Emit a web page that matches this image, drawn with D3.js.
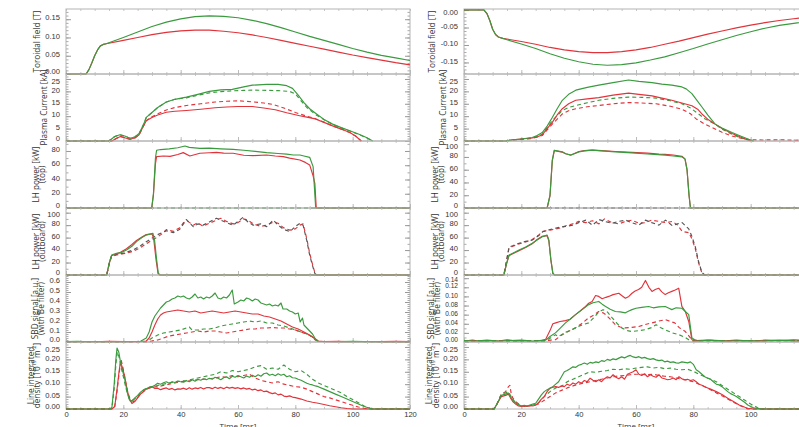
<!DOCTYPE html>
<html>
<head>
<meta charset="utf-8">
<script src="https://cdn.jsdelivr.net/npm/d3@7"></script>
<style>
  body { margin: 0; background: #fff; }
  svg { display: block; font-family: "Open Sans", sans-serif; }
</style>
</head>
<body>
<svg id="chart" width="799" height="427"></svg>
<script>
// ---- data: [time ms, value] ----
// toroidal field [T]
const torLG = [[0,0],[7,0],[8,0.012],[9,0.03],[10,0.05],[11,0.066],[12,0.077],[13,0.081],[14,0.083],[20,0.1],[25,0.115],[30,0.13],[35,0.142],[40,0.151],[45,0.157],[50,0.159],[55,0.158],[60,0.154],[65,0.147],[70,0.138],[75,0.127],[80,0.115],[85,0.103],[90,0.092],[95,0.081],[100,0.07],[105,0.06],[110,0.051],[115,0.044],[120,0.037]];
const torLR = [[0,0],[7,0],[8,0.012],[9,0.03],[10,0.05],[11,0.066],[12,0.077],[13,0.081],[14,0.083],[20,0.092],[25,0.1],[30,0.108],[35,0.114],[40,0.118],[45,0.12],[50,0.12],[55,0.117],[60,0.113],[65,0.107],[70,0.1],[75,0.092],[80,0.084],[85,0.076],[90,0.068],[95,0.06],[100,0.052],[105,0.045],[110,0.038],[115,0.031],[120,0.025]];
const torRG = [[0,0],[7,0],[8,-0.01],[9,-0.03],[10,-0.055],[11,-0.07],[12,-0.077],[13.5,-0.081],[15,-0.085],[20,-0.097],[25,-0.11],[30,-0.125],[35,-0.138],[40,-0.148],[45,-0.155],[50,-0.158],[55,-0.156],[60,-0.151],[65,-0.143],[70,-0.134],[75,-0.122],[80,-0.11],[85,-0.097],[90,-0.085],[95,-0.073],[100,-0.062],[105,-0.052],[110,-0.044],[115,-0.038],[120,-0.032]];
const torRR = [[0,0],[7,0],[8,-0.01],[9,-0.03],[10,-0.055],[11,-0.07],[12,-0.077],[13.5,-0.081],[15,-0.083],[20,-0.09],[25,-0.098],[30,-0.107],[35,-0.114],[40,-0.119],[45,-0.122],[50,-0.122],[55,-0.119],[60,-0.114],[65,-0.107],[70,-0.098],[75,-0.089],[80,-0.079],[85,-0.069],[90,-0.06],[95,-0.051],[100,-0.043],[105,-0.036],[110,-0.03],[115,-0.025],[120,-0.02]];

// plasma current [kA]
const ipLG = [[0,0],[15,0],[17,1.8],[18.8,2.5],[20.5,2],[22.3,1.1],[24,1.6],[25.5,3],[27,6.5],[28,9.5],[30,11.5],[32,13.5],[35,15.7],[38,16.8],[42,17.7],[46,18.8],[50,20],[54,20.6],[58,20.8],[62,21.8],[65,22.5],[70,22.8],[74,22.8],[77,22.3],[79,21.2],[81,18.5],[83,15.5],[85,13],[87.4,10.9],[90,8.7],[93,6.8],[96,5.4],[99,4.1],[102,2.8],[104.8,1.4],[107,0]];
const ipLGd = [[0,0],[15,0],[17,1.8],[18.8,2.5],[20.5,2],[22.3,1.1],[24,1.6],[25.5,3],[27,6.5],[28,9.5],[30,11.5],[32,13.5],[35,15.7],[38,16.8],[42,17.4],[45,18.2],[50,19.4],[54,19.9],[58,20.2],[62,20.4],[66,20.5],[70,20.4],[74,20.3],[78,20],[80,19],[82,16.2],[84,13.5],[87,10.7],[90,8.6],[93,6.7],[96,5.3],[99,4],[102,2.7],[105,1.2],[107,0]];
const ipLR = [[0,0],[16,0],[17.5,1],[19,1.8],[21,1.1],[22.3,0.7],[24,1.2],[25.5,2.5],[27,6],[28,8.2],[30,9.5],[32,10.5],[35,11.6],[38,12],[42,12.3],[47,12.8],[52,13.4],[56,13.7],[60,13.9],[65,13.9],[69,13.3],[73,12.6],[77,11.4],[81.5,10.2],[84,9.6],[87,8.9],[90,7.5],[93,6.1],[96,4.8],[99,3.4],[101,2],[103,0]];
const ipLRd = [[0,0],[16,0],[17.5,1],[19,1.8],[21,1.1],[22.3,0.7],[24,1.2],[25.5,2.5],[27,6],[28,8.2],[30,9.8],[32,11],[35,12.5],[38,13.5],[42,14.3],[47,15],[52,15.7],[56,16],[60,16.2],[65,15.8],[69,15.3],[72,14.8],[76,13.3],[80,11.5],[84,10],[87,9],[90,7.6],[93,6.1],[96,4.8],[99,3.4],[101,2],[103,0]];
const ipRG = [[0,0],[14.5,0],[17,0.5],[20,0.8],[23.8,1.4],[25.5,2.2],[27.3,3.4],[29,6],[30.8,9.5],[32.5,13],[34.3,16.4],[36.5,18.8],[39,20.5],[43,21.6],[47,22.5],[52,23.5],[57.4,24.6],[61,24],[65.6,23.5],[69,22.9],[72.5,22.5],[76,21.8],[77.5,21],[79.5,19.1],[81,16.8],[83,13.7],[85,10.5],[87.6,6.8],[90,5.2],[93.5,3.4],[96,2.2],[99.3,0.7],[101,0]];
const ipRR = [[0,0],[14.5,0],[17,0.5],[20,0.8],[23.8,1.2],[25.5,1.6],[27.3,2.5],[29,5],[30.8,7.5],[32.5,10.5],[34.3,13],[36.5,15],[39,16.4],[43,17],[47,17.5],[52,18.5],[57.4,19.3],[61,18.8],[65.6,18.2],[69,17.3],[72.5,16.4],[76,15.3],[79.5,14.2],[81.5,12.8],[83,10.9],[85,8.8],[87.6,6.8],[90,5],[93.5,3],[96,1.8],[99,0.4],[101,0]];
const ipRGd = [[0,0],[14.5,0],[17,0.4],[20,0.7],[23.8,1.2],[27.3,2.7],[30.8,8.2],[34.3,12.3],[36.5,13.5],[39,14.3],[43,15.4],[47,16.4],[52,17.2],[57.4,17.7],[62,17.6],[67,17.3],[72,16.2],[76,15],[79,13.3],[81,11.6],[84,9],[87.6,6.8],[90,4.8],[93.5,2.7],[96,1.5],[99,0.5],[100,0]];
const ipRRd = [[0,0],[14.5,0],[17,0.4],[20,0.7],[23.8,1],[27.3,2.2],[30.8,6.8],[34.3,10.9],[36.5,12.2],[39,13],[43,13.8],[47,14.3],[52,15],[57.4,15.5],[62,15.3],[67,15],[72,14],[76,12.8],[79,11],[81,8.9],[84,6.8],[87.6,4.8],[90,3.5],[93.5,2],[97,1],[100,0.5],[104,0.4],[110,0.5],[115,0.3],[120,0.5]];

// LH power, top [kW]
const lhTopLG = [[0,0],[29.9,0],[30.5,20],[31.2,70],[31.6,81],[33,82],[36,83],[39,84.5],[41.5,87],[43,85],[46.7,83.7],[50,84],[54,83],[58.3,82.3],[62,81],[66,79.5],[70,77.7],[74,76.5],[77,75.5],[79.3,74.4],[81.6,74.4],[83,73],[85,71.1],[86.2,58],[87.1,0],[120,0]];
const lhTopLR = [[0,0],[29.9,0],[30.5,18],[31.2,62],[31.6,72],[34,73],[36.3,72.5],[39,75],[40.9,77.7],[43.2,73],[46.7,76.8],[50,77.5],[52.5,78.1],[55,77],[58.3,76.8],[62,74],[65.3,73.4],[70,74.4],[73,73],[75.8,72],[78,70],[81.6,67.4],[83.5,64],[85,60.4],[86.2,45],[86.8,34.7],[87.3,0],[120,0]];
const lhTopOff = [[0,0],[120,0]];
const lhTopRG = [[0,0],[29,0],[30,20],[30.8,75],[31.5,90.6],[34.3,88],[35.5,85],[37.2,82.8],[38.5,85],[40.1,88],[42,89.5],[44.7,90.6],[48,89.5],[52.8,88],[58.6,86.5],[64,84.7],[70.2,82.8],[73,81.5],[76,80.2],[77.1,76.6],[77.8,60],[78.5,20],[79,0],[120,0]];
const lhTopRR = [[0,0],[29,0],[30,19],[30.8,74],[31.5,90],[34.3,87.5],[35.5,85],[37.2,83],[38.5,85.5],[40.1,88.5],[42,90],[44.7,90.6],[48,89.8],[52.8,88.5],[58.6,87.2],[64,86],[68,84.5],[70.2,84],[73,83],[76,81],[77.1,77],[77.8,60],[78.5,20],[79,0],[120,0]];

// LH power, outboard [kW]
const lhOutLG = [[0,0],[14.2,0],[15,18],[15.9,32],[17.6,34.8],[19,35.5],[21.1,40],[23,46],[24.6,53.5],[26.5,60],[28,64],[30.3,67],[30.9,56],[31.6,25],[32.2,2.7],[32.8,0],[120,0]];
const lhOutLR = [[0,0],[14.2,0],[15,17],[15.9,31],[17.6,34],[19,36.5],[21.1,42],[23,49],[24.6,55.5],[26.5,61],[28,65],[30,66],[30.6,58],[31.4,25],[32.1,2.7],[32.8,0],[120,0]];
const lhOutLGd = [[0,0],[14.2,0],[15,17],[15.9,31],[17.6,33],[20,35],[23.4,40],[26,47],[28,53.5],[30,59],[31.6,64],[33.5,68],[35.1,71],[37.5,68],[39.7,73.5],[42,89],[44.4,77.5],[46,82],[47.8,80],[50,85],[52.5,91],[54,88],[56,84],[58.3,80],[60,86],[61.8,92.6],[63.5,85],[65.3,80],[68,82],[70,77.5],[72.3,88],[74,80],[75.8,73.5],[78.1,69.5],[80,78],[81.6,83],[82.7,80],[84,55],[85,32],[86,15],[86.8,2.7],[87.5,0],[120,0]];
const lhOutLRd = [[0,0],[14.2,0],[15,16],[15.9,30],[17.6,32],[20,34],[23.4,38],[26,44],[28,50],[30,56],[31.6,60],[33.5,66],[35.1,73],[37.5,70],[39.7,76],[41,84],[42.5,86],[44.4,80],[46,84],[47.8,78],[50,83],[52.5,88],[54,91],[56,86],[58.3,82],[60,84],[61.8,90],[63.5,88],[65.3,82],[68,78],[70,80],[72.3,85],[74,83],[75.8,76],[78.1,72],[80,74],[81.6,80],[82.7,82],[84,58],[85,35],[86,17],[86.8,4],[87.5,0],[120,0]];
const lhOutRG = [[0,0],[13.9,0],[14.8,18],[15.7,32],[17,35],[19.2,40],[21.5,45],[23.8,51],[25.5,56],[27.3,61.5],[29,64],[29.6,56],[30.3,25],[31,2.7],[31.6,0],[120,0]];
const lhOutRR = [[0,0],[13.9,0],[14.8,17],[15.7,31],[17,34],[19.2,39],[21.5,44],[23.8,50],[25.5,57],[27.3,62],[29,63],[29.6,55],[30.3,24],[31,2.5],[31.6,0],[120,0]];
const lhOutRGd = [[0,0],[13.9,0],[14.8,22],[15.7,45],[17,47],[19.2,51],[21.5,54],[23.8,56],[26,63],[27.5,69.5],[30,73],[33.2,76.5],[35.5,78],[37.9,80],[40,84],[42.5,88],[44.8,80],[47.1,89],[49,86],[51.7,83],[54,86],[56.4,88],[58.5,84],[61,80],[63.3,88],[65.5,84],[68,80],[70.3,88],[72.7,79],[74.5,82],[76.1,84],[78.4,74],[79.5,62],[80.7,45],[81.8,22],[83,4],[84,0],[120,0]];
const lhOutRRd = [[0,0],[13.9,0],[14.8,21],[15.7,43],[17,46],[19.2,50],[21.5,53],[23.8,57],[26,64],[27.5,70],[30,72],[33.2,75],[35.5,79],[37.9,82],[40,86],[42.5,84],[44.8,87],[47.1,82],[49,90],[51.7,84],[54,82],[56.4,86],[58.5,88],[61,83],[63.3,84],[65.5,88],[68,86],[70.3,84],[72.7,86],[74.5,80],[76.1,70],[78.4,68],[79.5,58],[80.7,42],[81.8,20],[83,3],[84,0],[120,0]];

// SBD signal [a.u.]
const sbdLG = [[0,0.004],[4,0.006],[8,0.003],[12,0.005],[16,0.004],[20,0.003],[24,0.005],[26,0.008],[28,0.04],[29,0.1],[30,0.2],[31,0.26],[32,0.3],[33,0.34],[34,0.37],[35,0.4],[36,0.41],[37,0.43],[38,0.44],[39,0.46],[40,0.45],[41,0.46],[42,0.44],[43,0.43],[44,0.45],[45,0.48],[46,0.44],[47,0.45],[48,0.43],[49,0.45],[50,0.44],[51,0.46],[52,0.49],[53,0.44],[54,0.43],[55,0.45],[56,0.44],[57,0.47],[58,0.52],[58.7,0.38],[60,0.4],[61,0.42],[62,0.41],[63,0.44],[64,0.43],[65,0.41],[66,0.43],[67,0.42],[68,0.39],[69,0.38],[70,0.37],[71,0.38],[72,0.36],[73,0.37],[74,0.36],[75,0.39],[75.7,0.33],[77,0.33],[78,0.31],[79,0.3],[80,0.28],[81,0.29],[81.7,0.2],[82.5,0.24],[83,0.17],[84,0.14],[85,0.11],[86,0.08],[87,0.03],[88,0.008],[92,0.005],[96,0.004],[100,0.006],[104,0.004],[108,0.005],[112,0.003],[116,0.005],[120,0.004]];
const sbdLR = [[0,0.003],[5,0.005],[10,0.002],[15,0.006],[20,0.004],[25,0.003],[28,0.01],[29,0.04],[30,0.1],[31,0.17],[32,0.23],[33,0.27],[34,0.29],[35,0.3],[37,0.31],[39,0.32],[41,0.31],[43,0.3],[45,0.31],[47,0.29],[49,0.3],[51,0.31],[53,0.3],[55,0.29],[57,0.3],[59,0.31],[61,0.3],[63,0.29],[65,0.28],[67,0.28],[69,0.26],[71,0.25],[73,0.23],[75,0.21],[77,0.18],[79,0.15],[81,0.13],[83,0.1],[85,0.07],[86.5,0.04],[88,0.01],[90,0.004],[95,0.006],[100,0.003],[105,0.005],[110,0.004],[115,0.006],[120,0.004]];
const sbdLGd = [[0,0.004],[28,0.004],[29,0.02],[30,0.04],[32,0.07],[34,0.09],[36,0.1],[38,0.11],[40,0.12],[42,0.14],[43,0.15],[44,0.12],[46,0.12],[48,0.13],[50,0.13],[52,0.14],[54,0.16],[56,0.17],[58,0.18],[60,0.19],[62,0.2],[64,0.21],[66,0.2],[68,0.21],[70,0.19],[72,0.19],[74,0.17],[76,0.16],[78,0.14],[80,0.12],[82,0.1],[84,0.08],[86,0.05],[87,0.02],[88,0.005],[120,0.004]];
const sbdLRd = [[0,0.003],[29,0.004],[30,0.01],[32,0.02],[34,0.04],[36,0.06],[38,0.07],[40,0.08],[42,0.09],[44,0.1],[46,0.11],[48,0.1],[50,0.11],[52,0.11],[54,0.1],[56,0.09],[58,0.1],[60,0.11],[62,0.12],[64,0.13],[66,0.13],[68,0.14],[70,0.14],[72,0.145],[74,0.14],[76,0.14],[78,0.13],[80,0.12],[82,0.1],[84,0.08],[86,0.05],[87,0.02],[88,0.005],[120,0.004]];
const sbdRR = [[0,0.002],[3,0.004],[6,0.001],[9,0.003],[12,0.002],[15,0.005],[18,0.002],[21,0.003],[24,0.001],[27,0.003],[28.5,0.006],[30,0.025],[31,0.04],[32,0.042],[33.5,0.045],[35.4,0.047],[37,0.05],[38.9,0.06],[40.5,0.068],[42.4,0.078],[43.5,0.085],[44.7,0.089],[45.9,0.102],[47,0.1],[48.2,0.095],[49.5,0.098],[50.5,0.1],[52,0.104],[54,0.107],[55,0.102],[56.3,0.096],[57.5,0.1],[58.6,0.107],[59.7,0.112],[60.9,0.115],[62,0.12],[63.3,0.135],[64.5,0.12],[65.6,0.111],[66.7,0.115],[67.9,0.118],[69,0.11],[70.2,0.104],[71.3,0.108],[72.5,0.111],[73.7,0.114],[74.9,0.118],[76,0.078],[77.2,0.067],[78.4,0.045],[79.5,0.005],[81,0.003],[85,0.004],[90,0.002],[95,0.004],[100,0.002],[105,0.004],[110,0.003],[115,0.005],[120,0.003]];
const sbdRG = [[0,0.003],[4,0.002],[8,0.004],[12,0.002],[16,0.003],[20,0.004],[24,0.002],[28.5,0.004],[30,0.012],[31.9,0.02],[33.5,0.03],[35.4,0.042],[37,0.05],[38.9,0.06],[41,0.07],[43.5,0.082],[45,0.086],[47,0.089],[48.2,0.083],[49.4,0.078],[51,0.072],[52.8,0.067],[54.5,0.066],[56.3,0.064],[57.5,0.068],[58.6,0.071],[60,0.074],[62,0.076],[64.4,0.078],[66,0.075],[68,0.077],[70.2,0.078],[71.5,0.074],[72.5,0.071],[74,0.075],[76,0.074],[77.2,0.067],[78.4,0.06],[79.5,0.009],[81,0.002],[86,0.004],[92,0.002],[98,0.003],[104,0.002],[110,0.004],[116,0.002],[120,0.003]];
const sbdRRd = [[0,0.002],[28.5,0.002],[30,0.004],[31.9,0.005],[34,0.015],[36,0.022],[38.9,0.031],[41,0.04],[43.5,0.053],[45.5,0.06],[47,0.067],[48.5,0.064],[49.4,0.06],[51,0.05],[52.8,0.038],[54.5,0.033],[56.3,0.031],[58.6,0.032],[61,0.034],[63,0.038],[65.6,0.042],[68,0.046],[70.2,0.049],[72,0.045],[73.5,0.042],[75,0.032],[77.2,0.023],[79.5,0.005],[82,0.003],[120,0.003]];
const sbdRGd = [[0,0.003],[28.5,0.003],[30,0.008],[31.9,0.016],[33,0.012],[35,0.02],[38.9,0.031],[41,0.037],[43.5,0.042],[45.5,0.055],[47,0.066],[48.5,0.071],[50,0.066],[51.7,0.053],[53.5,0.04],[55,0.031],[57,0.025],[58.6,0.023],[61,0.025],[63.3,0.027],[65.6,0.032],[67,0.038],[68.5,0.032],[70,0.027],[72.7,0.02],[75,0.016],[77.2,0.01],[78.4,0.005],[80,0.002],[120,0.003]];

// line integrated density [1e19 m^-2]
const denLG = [[0,0],[15,0],[16,0.005],[16.8,0.1],[17.4,0.2],[17.8,0.246],[18.4,0.23],[19,0.19],[19.6,0.16],[20.5,0.12],[21.3,0.07],[22,0.04],[22.5,0.03],[23.2,0.035],[24,0.045],[25,0.055],[26,0.068],[27,0.077],[28,0.082],[29,0.088],[30,0.09],[31,0.096],[32,0.104],[33,0.1],[34,0.106],[35,0.11],[36,0.104],[37,0.11],[38,0.107],[39,0.113],[40,0.11],[41,0.108],[42,0.114],[43,0.11],[44,0.118],[45,0.112],[46,0.12],[47,0.116],[48,0.122],[49,0.118],[50,0.124],[51,0.12],[52,0.128],[53,0.124],[54,0.118],[55,0.126],[56,0.13],[57,0.122],[58,0.132],[59,0.128],[60,0.135],[61,0.13],[62,0.125],[63,0.133],[64,0.128],[65,0.136],[66,0.13],[67,0.138],[68,0.132],[69,0.142],[70,0.145],[71,0.136],[72,0.14],[73,0.134],[74,0.142],[75,0.136],[76,0.14],[77,0.13],[78,0.134],[79,0.126],[80,0.125],[81,0.12],[82,0.116],[83,0.11],[84,0.104],[85,0.1],[86,0.097],[87,0.093],[88,0.09],[90,0.08],[92,0.07],[94,0.06],[96,0.05],[98,0.04],[100,0.03],[102,0.02],[104,0.01],[106,0.003],[107,0],[120,0]];
const denLR = [[0,0],[16,0],[17,0.01],[17.8,0.08],[18.5,0.15],[19,0.19],[19.6,0.17],[20.5,0.13],[21.3,0.08],[22,0.045],[23,0.022],[24,0.03],[25,0.045],[26,0.06],[27,0.07],[28,0.08],[29,0.086],[30,0.09],[31,0.083],[32,0.084],[33,0.078],[34,0.082],[35,0.085],[36,0.079],[37,0.083],[38,0.077],[39,0.081],[40,0.08],[41,0.084],[42,0.079],[43,0.086],[44,0.08],[45,0.085],[46,0.082],[47,0.087],[48,0.081],[49,0.086],[50,0.086],[51,0.082],[52,0.088],[53,0.083],[54,0.087],[55,0.082],[56,0.088],[57,0.084],[58,0.087],[59,0.083],[60,0.086],[61,0.081],[62,0.085],[63,0.08],[64,0.083],[65,0.077],[66,0.08],[67,0.074],[68,0.077],[69,0.07],[70,0.072],[71,0.066],[72,0.062],[73,0.065],[74,0.057],[75,0.06],[76,0.052],[77,0.05],[78,0.053],[79,0.048],[80,0.046],[82,0.04],[84,0.032],[86,0.027],[88,0.023],[90,0.018],[92,0.013],[94,0.009],[96,0.005],[98,0.002],[100,0],[120,0]];
const denLGd = [[0,0],[15,0],[16,0.004],[16.8,0.08],[17.4,0.18],[17.9,0.23],[18.5,0.21],[19.2,0.17],[20,0.13],[21,0.08],[22,0.045],[23,0.035],[24,0.04],[25,0.05],[26,0.065],[27,0.075],[28,0.083],[30,0.088],[32,0.095],[34,0.1],[36,0.105],[38,0.11],[40,0.112],[42,0.115],[44,0.12],[46,0.125],[48,0.13],[50,0.135],[52,0.14],[54,0.15],[56,0.145],[58,0.155],[60,0.15],[62,0.155],[64,0.16],[66,0.17],[68,0.175],[70,0.16],[72,0.165],[74,0.16],[76,0.177],[78,0.16],[80,0.15],[82,0.155],[84,0.14],[86,0.12],[88,0.105],[90,0.095],[92,0.085],[94,0.075],[96,0.065],[98,0.05],[100,0.038],[102,0.025],[104,0.012],[106,0.004],[108,0],[120,0]];
const denLRd = [[0,0],[16,0],[17,0.01],[17.8,0.07],[18.5,0.14],[19.2,0.2],[19.8,0.17],[20.6,0.12],[21.5,0.07],[22.5,0.035],[23.5,0.03],[24.5,0.04],[26,0.06],[28,0.08],[30,0.088],[32,0.09],[34,0.095],[36,0.1],[38,0.105],[40,0.11],[42,0.112],[44,0.115],[46,0.118],[48,0.12],[50,0.122],[52,0.125],[54,0.13],[56,0.128],[58,0.135],[60,0.13],[62,0.135],[64,0.14],[66,0.125],[68,0.115],[70,0.11],[72,0.105],[74,0.11],[76,0.1],[78,0.095],[80,0.09],[82,0.088],[84,0.08],[86,0.07],[88,0.06],[90,0.05],[92,0.045],[94,0.037],[96,0.03],[98,0.022],[100,0.015],[102,0.008],[104,0.003],[106,0],[120,0]];
const denRG = [[0,0],[10.5,0],[11.5,0.02],[13,0.055],[14.5,0.06],[15.5,0.064],[16.2,0.05],[17,0.036],[18,0.025],[19,0.016],[20,0.012],[21,0.015],[22,0.012],[23,0.016],[24,0.02],[25,0.023],[26,0.04],[27,0.057],[28,0.07],[29,0.078],[30,0.084],[31,0.09],[32,0.1],[33,0.11],[34,0.13],[35,0.15],[36,0.155],[37,0.162],[38,0.17],[39,0.168],[40,0.176],[41,0.18],[42,0.185],[43,0.18],[44,0.188],[45,0.185],[46,0.19],[47,0.187],[48,0.195],[49,0.192],[50,0.2],[51,0.196],[52,0.202],[53,0.199],[54,0.205],[55,0.21],[56,0.206],[57,0.212],[58,0.216],[59,0.21],[60,0.207],[61,0.211],[62,0.205],[63,0.208],[64,0.203],[65,0.2],[66,0.203],[67,0.198],[68,0.195],[69,0.197],[70,0.19],[71,0.193],[72,0.188],[73,0.19],[74,0.186],[75,0.185],[76,0.19],[77,0.188],[78,0.186],[79,0.19],[80,0.18],[81,0.158],[82,0.15],[83,0.14],[84,0.13],[85,0.124],[86,0.12],[87,0.11],[88,0.1],[89,0.097],[90,0.09],[91,0.08],[92,0.07],[93,0.062],[94,0.056],[95,0.05],[96,0.042],[97,0.034],[98,0.026],[99,0.016],[100,0.01],[101,0.005],[102,0.003],[104,0],[120,0]];
const denRR = [[0,0],[10.5,0],[11.5,0.02],[13,0.05],[14.5,0.055],[15.5,0.06],[16.2,0.045],[17,0.03],[18,0.02],[19,0.012],[20,0.01],[21,0.012],[22,0.01],[23,0.014],[24,0.012],[25,0.015],[26,0.025],[27,0.04],[28,0.05],[29,0.07],[30,0.084],[31,0.088],[32,0.09],[33,0.087],[34,0.093],[35,0.09],[36,0.1],[37,0.095],[38,0.105],[39,0.1],[40,0.11],[41,0.104],[42,0.115],[43,0.11],[44,0.124],[45,0.116],[46,0.11],[47,0.118],[48,0.11],[49,0.122],[50,0.13],[51,0.125],[52,0.138],[53,0.128],[54,0.122],[55,0.13],[56,0.12],[57,0.14],[58,0.145],[59,0.15],[60,0.158],[61,0.14],[62,0.135],[63,0.142],[64,0.13],[65,0.138],[66,0.132],[67,0.128],[68,0.138],[69,0.125],[70,0.122],[71,0.118],[72,0.12],[73,0.125],[74,0.118],[75,0.13],[76,0.122],[77,0.118],[78,0.12],[79,0.115],[80,0.118],[81,0.11],[82,0.1],[83,0.096],[84,0.09],[85,0.085],[86,0.08],[87,0.075],[88,0.07],[90,0.058],[92,0.043],[94,0.03],[96,0.016],[98,0.007],[99,0.003],[101,0],[120,0]];
const denRGd = [[0,0],[10.5,0],[11.5,0.02],[13,0.06],[14.5,0.065],[15.5,0.07],[16.2,0.055],[17,0.04],[18,0.025],[20,0.012],[22,0.012],[24,0.016],[26,0.025],[28,0.05],[30,0.07],[32,0.085],[34,0.092],[35,0.1],[36,0.11],[38,0.12],[40,0.13],[42,0.14],[44,0.15],[46,0.148],[48,0.152],[50,0.155],[52,0.16],[54,0.158],[56,0.162],[58,0.16],[60,0.165],[62,0.168],[64,0.17],[66,0.165],[68,0.168],[70,0.162],[72,0.165],[74,0.16],[76,0.158],[78,0.16],[80,0.152],[82,0.14],[84,0.13],[86,0.12],[88,0.11],[90,0.095],[92,0.08],[94,0.065],[96,0.05],[98,0.035],[100,0.02],[102,0.008],[103,0],[120,0]];
const denRRd = [[0,0],[10.5,0],[11.5,0.02],[13,0.06],[14.5,0.07],[15.5,0.09],[16,0.095],[16.5,0.06],[17,0.045],[18,0.03],[20,0.012],[22,0.01],[24,0.015],[26,0.02],[28,0.035],[30,0.05],[32,0.065],[34,0.075],[35,0.08],[36,0.085],[38,0.093],[40,0.1],[42,0.105],[44,0.11],[46,0.115],[48,0.12],[50,0.125],[52,0.13],[54,0.133],[56,0.135],[58,0.138],[60,0.14],[62,0.14],[64,0.138],[66,0.14],[68,0.135],[70,0.132],[72,0.13],[74,0.125],[76,0.12],[78,0.115],[80,0.11],[82,0.1],[84,0.09],[86,0.078],[88,0.065],[90,0.053],[92,0.04],[94,0.027],[96,0.015],[98,0.006],[99,0],[120,0]];

const timeTicks = [0, 20, 40, 60, 80, 100, 120];

// ---- layout ----
const GREEN = '#3a9a3e', RED = '#e0343b';
const bands = [[9, 74], [74, 141], [141, 208], [208, 275], [275, 342], [342, 409]];
const svg = d3.select('#chart');
const defs = svg.append('defs');
const line = d3.line();

const f2 = d => d.toFixed(2), f1 = d => d.toFixed(1), f0 = d => String(d);
const sup = (base, s1, mid, s2, end) => [[base], [s1, true], [mid], [s2, true], [end]];

const left = {
  name: 'L', x0: 66, x1: 410,
  panels: [
    { domain: [0, 0.178], major: [0, 0.05, 0.1, 0.15], minor: 0.01, fmt: f2,
      title: [[['Toroidal field [T]']]], tx: [37], series: [[torLR, RED], [torLG, GREEN]] },
    { domain: [0, 27], major: [0, 5, 10, 15, 20, 25], minor: 1, fmt: f0,
      title: [[['Plasma Current [kA]']]], tx: [44], series: [[ipLRd, RED, 1], [ipLGd, GREEN, 1], [ipLR, RED], [ipLG, GREEN]] },
    { domain: [0, 94], major: [0, 20, 40, 60, 80], minor: 10, fmt: f0,
      title: [[['LH power [kW]']], [['(top)']]], tx: [36, 42.5], series: [[lhTopOff, GREEN, 1], [lhTopLR, RED], [lhTopLG, GREEN]] },
    { domain: [0, 107.5], major: [0, 20, 40, 60, 80, 100], minor: 10, fmt: f0,
      title: [[['LH power [kW]']], [['(outboard)']]], tx: [36, 42.5], series: [[lhOutLRd, RED, 1], [lhOutLGd, '#555', 1], [lhOutLR, RED], [lhOutLG, GREEN]] },
    { domain: [0, 0.67], major: [0, 0.1, 0.2, 0.3, 0.4, 0.5, 0.6], minor: 0.02, fmt: f1,
      title: [[['SBD signal [a.u.]']], [['(with Be filter)']]], tx: [35, 41], series: [[sbdLRd, RED, 1], [sbdLGd, GREEN, 1], [sbdLR, RED], [sbdLG, GREEN]] },
    { domain: [0, 0.27], major: [0, 0.05, 0.1, 0.15, 0.2, 0.25], minor: 0.01, fmt: f2,
      title: [[['Line integrated']], sup('density [10', '19', ' m', '-2', ']')], tx: [31, 37.5], series: [[denLRd, RED, 1], [denLGd, GREEN, 1], [denLR, RED], [denLG, GREEN]] }
  ]
};

const right = {
  name: 'R', x0: 464, x1: 808,
  panels: [
    { domain: [-0.183, 0.003], major: [0, -0.05, -0.1, -0.15], minor: 0.01, fmt: f2,
      title: [[['Toroidal field [T]']]], tx: [432], series: [[torRR, RED], [torRG, GREEN]] },
    { domain: [0, 27], major: [0, 5, 10, 15, 20, 25], minor: 1, fmt: f0,
      title: [[['Plasma Current [kA]']]], tx: [443], series: [[ipRRd, RED, 1], [ipRGd, GREEN, 1], [ipRR, RED], [ipRG, GREEN]] },
    { domain: [0, 105], major: [0, 20, 40, 60, 80, 100], minor: 10, fmt: f0,
      title: [[['LH power [kW]']], [['(top)']]], tx: [435, 441.5], series: [[lhTopOff, '#555', 1], [lhTopRR, RED], [lhTopRG, GREEN]] },
    { domain: [0, 107.5], major: [0, 20, 40, 60, 80, 100], minor: 10, fmt: f0,
      title: [[['LH power [kW]']], [['(outboard)']]], tx: [435, 441.5], series: [[lhOutRRd, RED, 1], [lhOutRGd, '#555', 1], [lhOutRR, RED], [lhOutRG, GREEN]] },
    { domain: [0, 0.147], major: [0, 0.02, 0.04, 0.06, 0.08, 0.1, 0.12, 0.14], minor: 0.01, fmt: f2, fs: 6.6,
      title: [[['SBD signal [a.u.]']], [['(with Be filter)']]], tx: [431, 437.5], series: [[sbdRRd, RED, 1], [sbdRGd, GREEN, 1], [sbdRR, RED], [sbdRG, GREEN]] },
    { domain: [0, 0.27], major: [0, 0.05, 0.1, 0.15, 0.2, 0.25], minor: 0.01, fmt: f2,
      title: [[['Line integrated']], sup('density [10', '19', ' m', '-2', ']')], tx: [429.5, 436], series: [[denRRd, RED, 1], [denRGd, GREEN, 1], [denRR, RED], [denRG, GREEN]] }
  ]
};

function styleAxis(g, color, fs) {
  g.select('.domain').remove();
  g.selectAll('line').attr('stroke', color);
  g.selectAll('text').attr('fill', '#333').attr('font-size', fs || 7.6);
}

function drawPanel(side, i, p) {
  const [top, bottom] = bands[i];
  const x = d3.scaleLinear().domain([0, 120]).range([side.x0, side.x1]);
  const y = d3.scaleLinear().domain(p.domain).range([bottom, top]);
  const g = svg.append('g');

  const clipId = `clip${side.name}${i}`;
  defs.append('clipPath').attr('id', clipId)
    .append('rect').attr('x', side.x0).attr('y', top - 1)
    .attr('width', side.x1 - side.x0).attr('height', bottom - top + 2);

  // x ticks (top & bottom of each panel)
  const minorX = d3.range(0, 121, 5);
  g.append('g').attr('transform', `translate(0,${bottom})`)
    .call(d3.axisBottom(x).tickValues(minorX).tickSize(-2).tickFormat(''))
    .call(a => styleAxis(a, '#c8c8c8'));
  g.append('g').attr('transform', `translate(0,${top})`)
    .call(d3.axisTop(x).tickValues(minorX).tickSize(-2).tickFormat(''))
    .call(a => styleAxis(a, '#c8c8c8'));
  g.append('g').attr('transform', `translate(0,${bottom})`)
    .call(d3.axisBottom(x).tickValues(timeTicks).tickSize(-4)
      .tickPadding(3).tickFormat(i === 5 ? f0 : ''))
    .call(a => styleAxis(a, '#bbb'));

  // y ticks, inward on both sides
  const lo = Math.min(...p.domain), hi = Math.max(...p.domain);
  const minorY = d3.range(Math.ceil(lo / p.minor) * p.minor, hi, p.minor);
  g.append('g').attr('transform', `translate(${side.x0},0)`)
    .call(d3.axisLeft(y).tickValues(minorY).tickSize(-2.5).tickFormat(''))
    .call(a => styleAxis(a, '#aaa'));
  g.append('g').attr('transform', `translate(${side.x1},0)`)
    .call(d3.axisRight(y).tickValues(minorY).tickSize(-2.5).tickFormat(''))
    .call(a => styleAxis(a, '#aaa'));
  g.append('g').attr('transform', `translate(${side.x0},0)`)
    .call(d3.axisLeft(y).tickValues(p.major).tickSize(-5).tickPadding(6).tickFormat(p.fmt))
    .call(a => styleAxis(a, '#999', p.fs))
    // nudge the edge labels apart so neighbouring panels do not collide
    .call(a => a.selectAll('text').attr('dy', d =>
      y(d) > bottom - 3 ? '-0.1em' : (y(d) < top + 6 ? '0.55em' : '0.1em')));
  g.append('g').attr('transform', `translate(${side.x1},0)`)
    .call(d3.axisRight(y).tickValues(p.major).tickSize(-5).tickFormat(''))
    .call(a => styleAxis(a, '#999'));

  // frame
  g.append('rect').attr('x', side.x0).attr('y', top)
    .attr('width', side.x1 - side.x0).attr('height', bottom - top)
    .attr('fill', 'none').attr('stroke', '#b4b4b4').attr('stroke-width', 1);

  // curves
  const lines = g.append('g').attr('clip-path', `url(#${clipId})`);
  line.x(d => x(d[0])).y(d => y(d[1]));
  p.series.forEach(([data, color, dashed]) => {
    lines.append('path')
      .attr('d', line(data))
      .attr('fill', 'none')
      .attr('stroke', color)
      .attr('stroke-width', 1.15)
      .attr('stroke-dasharray', dashed ? '4,3' : null)
      .attr('stroke-linejoin', 'round');
  });

  // rotated y title
  const yc = (top + bottom) / 2;
  p.title.forEach((segs, k) => {
    const t = svg.append('text')
      .attr('transform', `translate(${p.tx[k]},${yc}) rotate(-90)`)
      .attr('text-anchor', 'middle')
      .attr('dy', '0.35em')
      .attr('font-size', 8.2)
      .attr('fill', '#333');
    segs.forEach(([txt, isSup]) => {
      t.append('tspan')
        .attr('font-size', isSup ? 5.5 : null)
        .attr('baseline-shift', isSup ? 'super' : null)
        .text(txt);
    });
  });
}

[left, right].forEach(side => {
  side.panels.forEach((p, i) => drawPanel(side, i, p));
  svg.append('text')
    .attr('x', (side.x0 + side.x1) / 2).attr('y', 428.5)
    .attr('text-anchor', 'middle').attr('font-size', 8).attr('fill', '#333')
    .text('Time [ms]');
});
</script>
</body>
</html>
